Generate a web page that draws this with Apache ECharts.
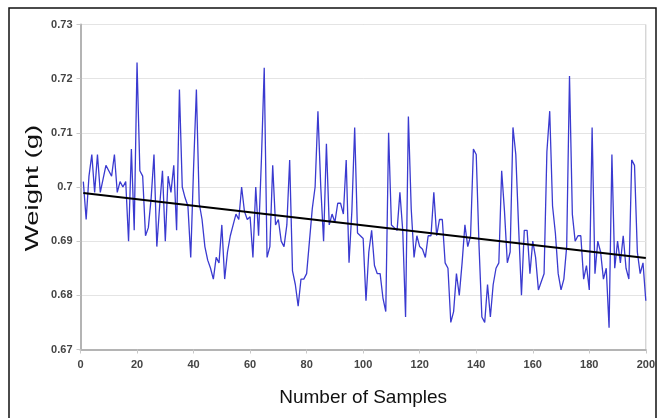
<!DOCTYPE html>
<html>
<head>
<meta charset="utf-8">
<script src="https://cdn.jsdelivr.net/npm/echarts@6/dist/echarts.min.js"></script>
<style>
  html, body { margin: 0; padding: 0; background: #fff; }
  #chart { width: 658px; height: 418px; }
</style>
</head>
<body>
<div id="chart"></div>
<script>
// Measured weight of each sample, in grams (samples 1..200)
const weights = [
  0.701, 0.694, 0.702, 0.706, 0.699, 0.706, 0.699, 0.7015, 0.704, 0.703,
  0.702, 0.706, 0.699, 0.701, 0.700, 0.701, 0.690, 0.707, 0.692, 0.723,
  0.703, 0.702, 0.691, 0.6925, 0.698, 0.706, 0.689, 0.6965, 0.703, 0.690,
  0.702, 0.699, 0.704, 0.692, 0.718, 0.700, 0.698, 0.6965, 0.687, 0.7035,
  0.718, 0.697, 0.694, 0.689, 0.6865, 0.685, 0.683, 0.687, 0.686, 0.693,
  0.683, 0.688, 0.691, 0.693, 0.695, 0.694, 0.700, 0.6955, 0.694, 0.6945,
  0.687, 0.700, 0.691, 0.705, 0.722, 0.687, 0.689, 0.704, 0.693, 0.694,
  0.690, 0.689, 0.693, 0.705, 0.6845, 0.682, 0.678, 0.683, 0.683, 0.684,
  0.690, 0.696, 0.700, 0.714, 0.700, 0.690, 0.708, 0.693, 0.695, 0.6935,
  0.697, 0.697, 0.695, 0.705, 0.686, 0.6955, 0.711, 0.6915, 0.691, 0.6905,
  0.679, 0.688, 0.692, 0.6855, 0.684, 0.684, 0.6795, 0.677, 0.710, 0.693,
  0.6925, 0.692, 0.699, 0.692, 0.676, 0.713, 0.696, 0.687, 0.691, 0.689,
  0.6885, 0.687, 0.691, 0.691, 0.699, 0.691, 0.694, 0.694, 0.686, 0.685,
  0.675, 0.677, 0.684, 0.680, 0.686, 0.693, 0.689, 0.691, 0.707, 0.706,
  0.689, 0.676, 0.675, 0.682, 0.676, 0.682, 0.685, 0.686, 0.703, 0.6955,
  0.686, 0.688, 0.711, 0.706, 0.6925, 0.680, 0.692, 0.692, 0.684, 0.690,
  0.687, 0.681, 0.6825, 0.684, 0.7065, 0.714, 0.6965, 0.6915, 0.684, 0.681,
  0.683, 0.689, 0.7205, 0.695, 0.690, 0.691, 0.691, 0.683, 0.6855, 0.681,
  0.711, 0.684, 0.690, 0.688, 0.683, 0.685, 0.674, 0.706, 0.685, 0.690,
  0.686, 0.691, 0.685, 0.683, 0.705, 0.704, 0.688, 0.684, 0.686, 0.679
];

// Linear trend line endpoints: [sample, weight]
const trendStart = [1, 0.6989];
const trendEnd = [200, 0.6869];

// Axis ticks
const xTicks = { min: 0, max: 200, step: 20 };
const yTicks = { min: 0.67, max: 0.73, step: 0.01 };

const xTitle = 'Number of Samples';
const yTitle = 'Weight (g)';

const samplePoints = weights.map((w, i) => [i + 1, w]);

const chart = echarts.init(document.getElementById('chart'), null, { renderer: 'canvas' });

const FONT = 'Liberation Sans, Arial, sans-serif';
const labelStyle = { color: '#444', fontFamily: FONT, fontSize: 11, fontWeight: 'bold' };

chart.setOption({
  animation: false,
  backgroundColor: '#ffffff',
  graphic: [
    {
      // outer frame around the figure
      type: 'rect',
      shape: { x: 9, y: 8, width: 647, height: 430 },
      style: { fill: 'none', stroke: '#111', lineWidth: 1.5 },
      silent: true,
      z: 0
    },
    {
      // vertical axis title, set widely along its baseline
      type: 'text',
      x: 33,
      y: 188,
      rotation: Math.PI / 2,
      scaleX: 1.45,
      style: {
        text: yTitle,
        fill: '#111',
        font: '19px ' + FONT,
        align: 'center',
        verticalAlign: 'middle'
      },
      silent: true
    }
  ],
  grid: {
    left: 80.5, right: 11.3, top: 24.5, bottom: 68.5,
    show: true, borderColor: '#c4c4c4', borderWidth: 1,
    backgroundColor: 'transparent'
  },
  xAxis: {
    type: 'value',
    min: xTicks.min, max: xTicks.max, interval: xTicks.step,
    name: xTitle,
    nameLocation: 'middle',
    nameGap: 39,
    nameTextStyle: { color: '#111', fontSize: 19, fontFamily: FONT },
    axisLine: { show: true, onZero: false, lineStyle: { color: '#b4b4b4', width: 2 } },
    axisTick: { show: true, length: 4, lineStyle: { color: '#c8c8c8' } },
    axisLabel: Object.assign({ margin: 10 }, labelStyle),
    splitLine: { show: false }
  },
  yAxis: {
    type: 'value',
    min: yTicks.min, max: yTicks.max, interval: yTicks.step,
    axisLine: { show: true, lineStyle: { color: '#b4b4b4', width: 2 } },
    axisTick: { show: true, length: 4, lineStyle: { color: '#c8c8c8' } },
    axisLabel: Object.assign({ margin: 8, formatter: v => String(+v.toFixed(2)) }, labelStyle),
    splitLine: { show: true, lineStyle: { color: '#e4e4e4', width: 1 } }
  },
  series: [
    {
      name: 'Weight',
      type: 'line',
      data: samplePoints,
      showSymbol: false,
      lineStyle: { color: '#3a3ad0', width: 1.3 },
      z: 2
    },
    {
      name: 'Trend',
      type: 'line',
      data: [trendStart, trendEnd],
      showSymbol: false,
      lineStyle: { color: '#000', width: 2 },
      z: 3
    }
  ]
});
</script>
</body>
</html>
